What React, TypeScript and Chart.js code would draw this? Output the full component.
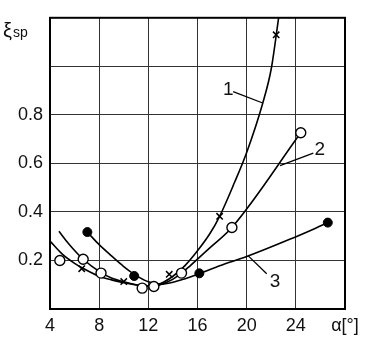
import React, { useEffect, useRef } from "react";
import { Chart, registerables } from "chart.js";

Chart.register(...registerables);

// Fitted curves (angle of attack α in degrees, ξsp)
const curve1Alpha = [4, 5, 6, 6.6, 8, 9, 10, 11, 12, 13, 14, 15, 16, 17, 17.8, 19, 20, 21.3, 22, 22.6];
const curve1Xi = [0.28, 0.226, 0.188, 0.17, 0.135, 0.12, 0.108, 0.099, 0.095, 0.105, 0.135, 0.18, 0.24, 0.31, 0.382, 0.52, 0.645, 0.847, 0.99, 1.2];

const curve2Alpha = [4.73, 5.5, 6.7, 8.15, 9, 10, 11, 12.3, 13.5, 14.5, 15.4, 17, 18.8, 24.4];
const curve2Xi = [0.32, 0.27, 0.205, 0.15, 0.128, 0.112, 0.1, 0.093, 0.11, 0.14, 0.178, 0.252, 0.336, 0.726];

const curve3Alpha = [7.04, 8, 9, 10, 10.8, 12, 13, 14, 15, 16.15, 17.8, 20, 23.5, 26.6];
const curve3Xi = [0.317, 0.265, 0.219, 0.175, 0.145, 0.112, 0.102, 0.11, 0.125, 0.145, 0.178, 0.216, 0.287, 0.355];

// Experimental points
const cross1Alpha = [6.58, 10.0, 13.7, 17.8, 22.4];
const cross1Xi = [0.166, 0.113, 0.143, 0.382, 1.13];

const open2Alpha = [4.8, 6.7, 8.15, 11.5, 12.45, 14.7, 18.8, 24.4];
const open2Xi = [0.2, 0.205, 0.148, 0.086, 0.093, 0.148, 0.336, 0.726];

const filled3Alpha = [7.04, 10.85, 16.15, 26.6];
const filled3Xi = [0.317, 0.136, 0.147, 0.356];

// Leader lines for curve labels
const leader1Alpha = [18.9, 21.25];
const leader1Xi = [0.896, 0.85];
const leader2Alpha = [25.42, 22.71];
const leader2Xi = [0.642, 0.591];
const leader3Alpha = [21.63, 20.13];
const leader3Xi = [0.145, 0.219];

const curveLabels = ["1", "2", "3"];
const xTickValues = [4, 8, 12, 16, 20, 24, 28];
const yTickValues = [0.2, 0.4, 0.6, 0.8];
const xAxisTitle = "α[°]";
const yAxisTitle = "ξ";
const yAxisSub = "sp";

const pts = (xs: number[], ys: number[]) => xs.map((x, i) => ({ x, y: ys[i] }));

export default function App() {
  const ref = useRef<HTMLCanvasElement | null>(null);

  useEffect(() => {
    document.body.style.margin = "0";
    const canvas = ref.current;
    if (!canvas) return;

    const labelPos = [
      { x: 18.5, y: 0.905 },
      { x: 25.95, y: 0.655 },
      { x: 22.3, y: 0.113 },
    ];

    const overlay = {
      id: "overlay",
      afterDraw(chart: any) {
        const { ctx, chartArea, scales } = chart;
        ctx.save();
        ctx.strokeStyle = "#000";
        ctx.lineWidth = 2;
        ctx.strokeRect(chartArea.left, chartArea.top, chartArea.right - chartArea.left, chartArea.bottom - chartArea.top);
        ctx.fillStyle = "#111";
        ctx.font = "19px 'Liberation Sans', Arial, sans-serif";
        ctx.textAlign = "center";
        ctx.textBaseline = "middle";
        curveLabels.forEach((t, i) => {
          ctx.fillText(t, scales.x.getPixelForValue(labelPos[i].x), scales.y.getPixelForValue(labelPos[i].y));
        });
        // y axis title
        ctx.textAlign = "left";
        ctx.textBaseline = "alphabetic";
        ctx.font = "20px 'Liberation Sans', Arial, sans-serif";
        ctx.fillText(yAxisTitle, 3, 37);
        const w = ctx.measureText(yAxisTitle).width;
        ctx.font = "14px 'Liberation Sans', Arial, sans-serif";
        ctx.fillText(yAxisSub, 3 + w + 1, 37);
        ctx.restore();
      },
    };

    const lineDs = (xs: number[], ys: number[]) => ({
      type: "line" as const,
      data: pts(xs, ys),
      borderColor: "#000",
      borderWidth: 1.6,
      pointRadius: 0,
      fill: false,
      cubicInterpolationMode: "monotone" as const,
      order: 3,
    });
    const leaderDs = (xs: number[], ys: number[]) => ({
      type: "line" as const,
      data: pts(xs, ys),
      borderColor: "#000",
      borderWidth: 1.3,
      pointRadius: 0,
      fill: false,
      order: 3,
    });

    const chart = new Chart(canvas, {
      type: "line",
      data: {
        datasets: [
          lineDs(curve1Alpha, curve1Xi),
          lineDs(curve2Alpha, curve2Xi),
          lineDs(curve3Alpha, curve3Xi),
          leaderDs(leader1Alpha, leader1Xi),
          leaderDs(leader2Alpha, leader2Xi),
          leaderDs(leader3Alpha, leader3Xi),
          {
            type: "scatter",
            data: pts(cross1Alpha, cross1Xi),
            pointStyle: "crossRot",
            pointRadius: 4.5,
            borderColor: "#000",
            borderWidth: 1.5,
            showLine: false,
            order: 1,
          },
          {
            type: "scatter",
            data: pts(open2Alpha, open2Xi),
            pointStyle: "circle",
            pointRadius: 5,
            backgroundColor: "#fff",
            borderColor: "#000",
            borderWidth: 1.4,
            showLine: false,
            order: 1,
          },
          {
            type: "scatter",
            data: pts(filled3Alpha, filled3Xi),
            pointStyle: "circle",
            pointRadius: 4.5,
            backgroundColor: "#000",
            borderColor: "#000",
            borderWidth: 1,
            showLine: false,
            order: 1,
          },
        ] as any,
      },
      options: {
        animation: false,
        responsive: true,
        maintainAspectRatio: false,
        layout: { padding: { top: 13, right: 22, left: 0, bottom: 0 } },
        plugins: { legend: { display: false }, tooltip: { enabled: false } },
        scales: {
          x: {
            type: "linear",
            min: 4,
            max: 28,
            afterFit: (s: any) => { s.height = 33; },
            afterBuildTicks: (s: any) => { s.ticks = xTickValues.map((v) => ({ value: v })); },
            ticks: {
              padding: 6,
              color: "#111",
              font: { size: 18, family: "'Liberation Sans', Arial, sans-serif" },
              callback: (v: any) => (v === 28 ? xAxisTitle : String(v)),
              maxRotation: 0,
              autoSkip: false,
            },
            grid: { color: "#333", lineWidth: 1, drawTicks: false },
            border: { color: "#000", width: 2 },
          },
          y: {
            type: "linear",
            min: 0,
            max: 1.2,
            afterFit: (s: any) => { s.width = 50; },
            afterBuildTicks: (s: any) => { s.ticks = [0, 0.2, 0.4, 0.6, 0.8, 1.0, 1.2].map((v) => ({ value: v })); },
            ticks: {
              padding: 7,
              color: "#111",
              font: { size: 18, family: "'Liberation Sans', Arial, sans-serif" },
              callback: (v: any) => {
                const f = yTickValues.find((t) => Math.abs(t - v) < 1e-6);
                return f !== undefined ? f.toFixed(1) : "";
              },
              autoSkip: false,
            },
            grid: { color: "#333", lineWidth: 1, drawTicks: false },
            border: { color: "#000", width: 2 },
          },
        },
      },
      plugins: [overlay],
    });
    return () => chart.destroy();
  }, []);

  return (
    <div style={{ width: 367, height: 342, position: "relative", background: "#fff" }}>
      <canvas ref={ref} />
    </div>
  );
}
